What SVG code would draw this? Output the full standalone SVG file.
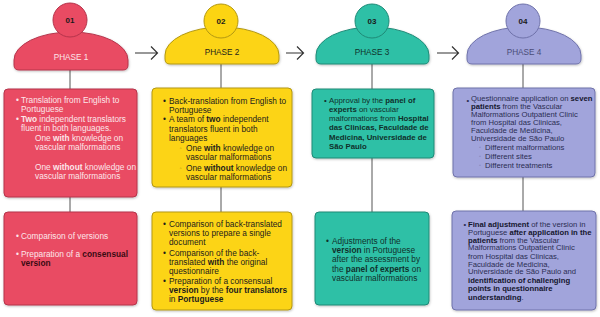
<svg xmlns="http://www.w3.org/2000/svg" width="600" height="317" viewBox="0 0 600 317">
<defs>
<style>
text{font-family:"Liberation Sans",Arial,sans-serif}
.t{font-size:8.3px}
.t3{font-size:7.8px}
.t4{font-size:7.7px}
.b{font-weight:bold}
.num{font-size:8px;font-weight:bold;fill:#1a1a1a;text-anchor:middle}
.ph{font-size:8.2px;text-anchor:middle}
.red{fill:#E94B63;stroke:#B5344B;stroke-width:1}
.yel{fill:#FCD412;stroke:#B39812;stroke-width:1}
.tea{fill:#2EC0A6;stroke:#1F8A77;stroke-width:1}
.lav{fill:#A1A4DB;stroke:#6F72AA;stroke-width:1}
.w{fill:#FCE6EA}
.k{fill:#1c1c1c}
.k3{fill:#10302B}
.k4{fill:#2B2D52}
.con{stroke:#555;stroke-width:1;fill:none}
.arr{stroke:#333;stroke-width:1.2;fill:none}
.sub{font-size:6px}
</style>
<filter id="sh" x="-5%" y="-5%" width="110%" height="115%"><feDropShadow dx="0.5" dy="1" stdDeviation="0.8" flood-color="#000" flood-opacity="0.25"/></filter>
</defs>
<rect width="600" height="317" fill="#fff"/>

<g id="connectors">
<line class="con" x1="70" y1="70" x2="70" y2="89"/>
<line class="con" x1="70" y1="197" x2="70" y2="212"/>
<line class="con" x1="221" y1="64" x2="221" y2="88"/>
<line class="con" x1="221" y1="187" x2="221" y2="212"/>
<line class="con" x1="372" y1="64" x2="372" y2="89"/>
<line class="con" x1="372" y1="158" x2="372" y2="212"/>
<line class="con" x1="523" y1="64" x2="523" y2="88"/>
<line class="con" x1="523" y1="177" x2="523" y2="211"/>
<path class="arr" d="M135,53 H157 M151,46.5 L157.5,53 L151,59.5"/>
<path class="arr" d="M286,53 H303 M297,46.5 L303.5,53 L297,59.5"/>
<path class="arr" d="M437,53 H458 M452,46.5 L458.5,53 L452,59.5"/>
</g>

<g id="phase1">
<path class="red" filter="url(#sh)" d="M14,65 Q14,70 19,70 L123,70 Q128,70 128,65 L128,60 A57,28 0 0 0 14,60 Z"/>
<circle class="red" cx="70" cy="20" r="17"/>
<text class="num" x="70" y="23">01</text>
<text class="ph w" x="71" y="60">PHASE 1</text>
</g>
<g id="phase2">
<path class="yel" filter="url(#sh)" d="M165,59 Q165,64 170,64 L274,64 Q279,64 279,59 L279,55 A57,28 0 0 0 165,55 Z"/>
<circle class="yel" cx="221" cy="21" r="17"/>
<text class="num" x="221" y="24">02</text>
<text class="ph k" x="222" y="55">PHASE 2</text>
</g>
<g id="phase3">
<path class="tea" filter="url(#sh)" d="M316,59 Q316,64 321,64 L424,64 Q429,64 429,59 L429,55 A56.5,28 0 0 0 316,55 Z"/>
<circle class="tea" cx="372" cy="21" r="17"/>
<text class="num" x="372" y="24">03</text>
<text class="ph k3" x="372" y="55">PHASE 3</text>
</g>
<g id="phase4">
<path class="lav" filter="url(#sh)" d="M467,59 Q467,64 472,64 L576,64 Q581,64 581,59 L581,55 A57,28 0 0 0 467,55 Z"/>
<circle class="lav" cx="523" cy="21" r="17"/>
<text class="num" x="523" y="24">04</text>
<text class="ph" x="524" y="55" fill="#4A4C78">PHASE 4</text>
</g>

<g id="box1a">
<rect class="red" filter="url(#sh)" x="4" y="89" width="133" height="108" rx="4"/>
<g class="t w">
<text x="16" y="103">•</text><text x="21" y="103">Translation from English to</text>
<text x="21" y="112">Portuguese</text>
<text x="16" y="121.5">•</text><text x="21" y="121.5"><tspan class="b">Two</tspan> independent translators</text>
<text x="21" y="131">fluent in both languages.</text>
<text x="35" y="141">One <tspan class="b">with</tspan> knowledge on</text>
<text x="35" y="150.3">vascular malformations</text>
<text x="35" y="170">One <tspan class="b">without</tspan> knowledge on</text>
<text x="35" y="179.3">vascular malformations</text>
</g>
</g>
<g id="box1b">
<rect class="red" filter="url(#sh)" x="4" y="212" width="133" height="93" rx="4"/>
<g class="t w">
<text x="16" y="239">•</text><text x="21" y="239">Comparison of versions</text>
<text x="16" y="257">•</text><text x="21" y="257">Preparation of a <tspan class="b" fill="#3a0a12">consensual</tspan></text>
<text x="21" y="266.3" class="b" fill="#3a0a12">version</text>
</g>
</g>

<g id="box2a">
<rect class="yel" filter="url(#sh)" x="152" y="88" width="140" height="99" rx="4"/>
<g class="t k">
<text x="163" y="103.7">•</text><text x="169" y="103.7">Back-translation from English to</text>
<text x="169" y="113">Portuguese</text>
<text x="163" y="122.3">•</text><text x="169" y="122.3">A team of <tspan class="b">two</tspan> independent</text>
<text x="169" y="131.6">translators fluent in both</text>
<text x="169" y="140.9">languages</text>
<text x="179.5" y="150.3" class="sub" fill="#8a7a20">◦</text><text x="186" y="150.6">One <tspan class="b">with</tspan> knowledge on</text>
<text x="186" y="159.9">vascular malformations</text>
<text x="179.5" y="170.3" class="sub" fill="#8a7a20">◦</text><text x="186" y="170.6">One <tspan class="b">without</tspan> knowledge on</text>
<text x="186" y="179.9">vascular malformations</text>
</g>
</g>
<g id="box2b">
<rect class="yel" filter="url(#sh)" x="152" y="212" width="140" height="98" rx="4"/>
<g class="t k">
<text x="163" y="226.5">•</text><text x="169" y="226.5">Comparison of back-translated</text>
<text x="169" y="235.5">versions to prepare a single</text>
<text x="169" y="244.5">document</text>
<text x="163" y="256">•</text><text x="169" y="256">Comparison of the back-</text>
<text x="169" y="265">translated <tspan class="b">with</tspan> the original</text>
<text x="169" y="274">questionnaire</text>
<text x="163" y="284">•</text><text x="169" y="284">Preparation of a consensual</text>
<text x="169" y="293"><tspan class="b">version</tspan> by the <tspan class="b">four translators</tspan></text>
<text x="169" y="302">in <tspan class="b">Portuguese</tspan></text>
</g>
</g>

<g id="box3a">
<rect class="tea" filter="url(#sh)" x="312" y="89" width="122" height="69" rx="4"/>
<g class="t3 k3">
<text x="324" y="103">•</text><text x="329" y="103">Approval by the <tspan class="b">panel of</tspan></text>
<text x="329" y="112"><tspan class="b">experts</tspan> on vascular</text>
<text x="329" y="121.3">malformations from <tspan class="b">Hospital</tspan></text>
<text x="329" y="130.3" class="b">das Clinicas, Faculdade de</text>
<text x="329" y="139.7" class="b">Medicina, Universidade de</text>
<text x="329" y="149" class="b">São Paulo</text>
</g>
</g>
<g id="box3b">
<rect class="tea" filter="url(#sh)" x="315" y="212" width="114" height="93" rx="4"/>
<g class="t k3">
<text x="326" y="243.7">•</text><text x="332" y="243.7">Adjustments of the</text>
<text x="332" y="253"><tspan class="b">version</tspan> in Portuguese</text>
<text x="332" y="262.3">after the assessment by</text>
<text x="332" y="271.6">the <tspan class="b">panel of experts</tspan> on</text>
<text x="332" y="281.3">vascular malformations</text>
</g>
</g>

<g id="box4a">
<rect class="lav" filter="url(#sh)" x="453" y="88" width="142" height="89" rx="4"/>
<g class="t4 k4">
<text x="466.5" y="103">•</text><text x="471" y="101">Questionnaire application on <tspan class="b" fill="#15162e">seven</tspan></text>
<text x="471" y="109"><tspan class="b" fill="#15162e">patients</tspan> from the Vascular</text>
<text x="471" y="116.8">Malformations Outpatient Clinic</text>
<text x="471" y="124.7">from Hospital das Clinicas,</text>
<text x="471" y="132.5">Faculdade de Medicina,</text>
<text x="471" y="140.5">Universidade de São Paulo</text>
<text x="479" y="149.3" font-size="5.5" fill="#6E70A8">◦</text><text x="485" y="149.5">Different malformations</text>
<text x="479" y="158.3" font-size="5.5" fill="#6E70A8">◦</text><text x="485" y="158.5">Different sites</text>
<text x="479" y="167.3" font-size="5.5" fill="#6E70A8">◦</text><text x="485" y="167.5">Different treatments</text>
</g>
</g>
<g id="box4b">
<rect class="lav" filter="url(#sh)" x="452" y="211" width="144" height="99" rx="4"/>
<g class="t4 k4">
<text x="463.5" y="227">•</text><text x="468" y="226.7"><tspan class="b" fill="#15162e">Final adjustment</tspan> of the version in</text>
<text x="468" y="235">Portuguese <tspan class="b" fill="#15162e">after application in the</tspan></text>
<text x="468" y="242.7"><tspan class="b" fill="#15162e">patients</tspan> from the Vascular</text>
<text x="468" y="250.4">Malformations Outpatient Clinic</text>
<text x="468" y="258.7">from Hospital das Clinicas,</text>
<text x="468" y="266.7">Faculdade de Medicina,</text>
<text x="468" y="274.4">Universidade de São Paulo and</text>
<text x="468" y="282.7" class="b" fill="#15162e">identification of challenging</text>
<text x="468" y="291" class="b" fill="#15162e">points in questionnaire</text>
<text x="468" y="300"><tspan class="b" fill="#15162e">understanding</tspan>.</text>
</g>
</g>
</svg>
